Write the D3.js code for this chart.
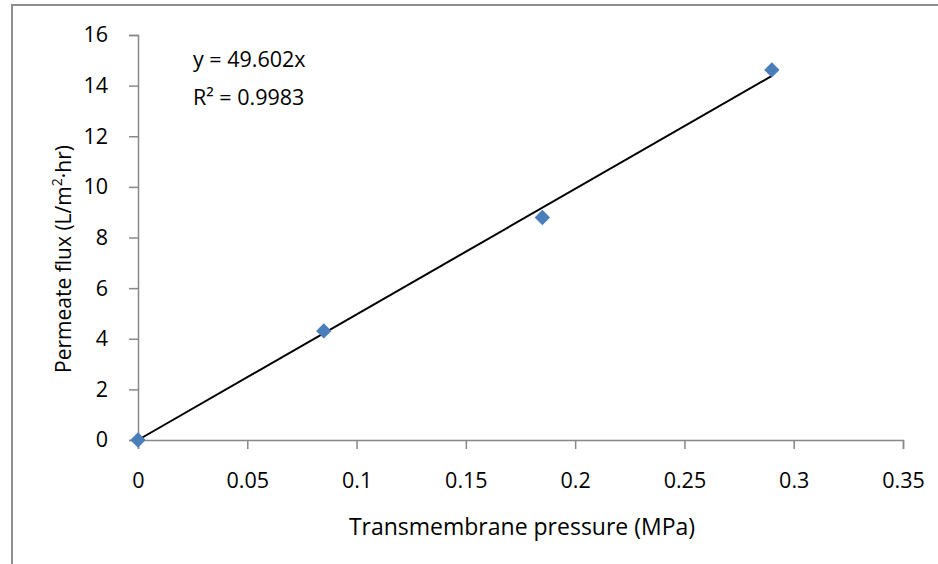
<!DOCTYPE html>
<html>
<head>
<meta charset="utf-8">
<script src="https://cdn.jsdelivr.net/npm/d3@7"></script>
<style>
  body { margin: 0; background: #fff; }
  text { font-family: "Open Sans", "Noto Sans", sans-serif; fill: #000; }
</style>
</head>
<body>
<script>
// data
var pressure = [0, 0.085, 0.185, 0.29];
var flux = [0, 4.31, 8.79, 14.62];
var slope = 49.602;
var xTicks = [0, 0.05, 0.1, 0.15, 0.2, 0.25, 0.3, 0.35];
var yTicks = [0, 2, 4, 6, 8, 10, 12, 14, 16];
var eqText = "y = 49.602x";
var r2Text = "R² = 0.9983";

var W = 938, H = 564;
var margin = {top: 35, right: 35, bottom: 124, left: 138},
    width = 903 - margin.left,
    height = 440 - margin.top;

var svg = d3.select("body").append("svg")
    .attr("width", W)
    .attr("height", H);

// outer chart border
svg.append("rect")
    .attr("x", 12).attr("y", 5)
    .attr("width", W).attr("height", H)
    .attr("fill", "none")
    .attr("stroke", "#8e8e8e")
    .attr("stroke-width", 2);

var g = svg.append("g")
    .attr("transform", "translate(" + margin.left + "," + margin.top + ")");

var x = d3.scaleLinear().domain([0, 0.35]).range([0, width]);
var y = d3.scaleLinear().domain([0, 16]).range([height, 0]);

var xAxis = g.append("g")
    .attr("transform", "translate(0," + height + ")")
    .call(d3.axisBottom(x).tickValues(xTicks).tickSize(9).tickPadding(24)
        .tickFormat(function(d) { return String(+d.toFixed(2)); }));

var yAxis = g.append("g")
    .call(d3.axisLeft(y).tickValues(yTicks).tickSize(9).tickPadding(21));

[xAxis, yAxis].forEach(function(a) {
  a.select(".domain").attr("stroke", "#888").attr("stroke-width", 1.5);
  a.selectAll(".tick line").attr("stroke", "#888").attr("stroke-width", 1.5);
  a.selectAll(".tick text")
      .style("font-family", "'Open Sans', sans-serif")
      .style("font-size", "21.5px")
      .attr("fill", "#000");
});

// trendline through origin
var xMax = d3.max(pressure);
g.append("line")
    .attr("x1", x(0)).attr("y1", y(0))
    .attr("x2", x(xMax)).attr("y2", y(slope * xMax))
    .attr("stroke", "#000")
    .attr("stroke-width", 2);

// points
g.selectAll("path.pt")
    .data(pressure)
    .enter().append("path")
    .attr("class", "pt")
    .attr("d", d3.symbol().type(d3.symbolDiamond2).size(150))
    .attr("transform", function(d, i) { return "translate(" + x(d) + "," + y(flux[i]) + ")"; })
    .attr("fill", "#4a7ebb");

// equation labels
svg.append("text")
    .attr("x", 193).attr("y", 67)
    .style("font-size", "21.5px")
    .text(eqText);
svg.append("text")
    .attr("x", 193).attr("y", 105)
    .style("font-size", "21.5px")
    .text(r2Text);

// axis titles
svg.append("text")
    .attr("x", 522).attr("y", 535)
    .attr("text-anchor", "middle")
    .style("font-size", "23px")
    .text("Transmembrane pressure (MPa)");

var yt = svg.append("text")
    .attr("transform", "translate(71,259) rotate(-90)")
    .attr("text-anchor", "middle")
    .style("font-size", "21px");
yt.append("tspan").text("Permeate flux (L/m");
yt.append("tspan").attr("dy", -9).style("font-size", "14px").text("2");
yt.append("tspan").attr("dy", 9).text("·hr)");
</script>
</body>
</html>
